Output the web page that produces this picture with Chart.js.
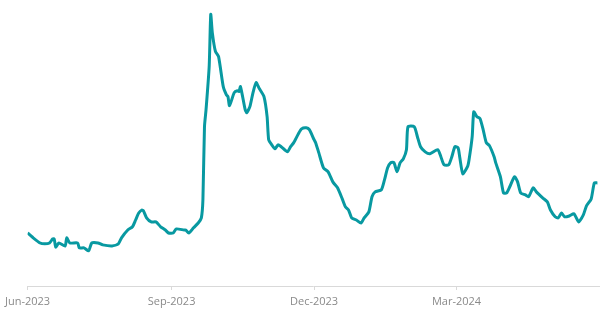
<!DOCTYPE html>
<html>
<head>
<meta charset="utf-8">
<script src="https://cdn.jsdelivr.net/npm/chart.js@4"></script>
<style>
  html, body { margin: 0; padding: 0; background: #fff; }
  .wrap { width: 600px; height: 309px; }
</style>
</head>
<body>
<div class="wrap"><canvas class="myChart"></canvas></div>
<script>
// days since 1 Jun 2023
const days = [
  0, 3, 8, 11, 14, 16, 17, 18, 20, 24, 25, 27, 32, 33, 36, 39, 41, 45, 48, 54,
  58, 60, 64, 67, 69, 71, 73, 74, 76, 79, 82, 85, 88, 90, 93, 95, 100, 101, 103, 106,
  109, 111, 112, 113, 114, 116, 117, 118, 120, 122, 125, 127, 128, 129, 132, 134, 135, 136, 139, 140,
  142, 144, 146, 148, 151, 153, 154, 156, 158, 160, 162, 166, 168, 170, 173, 175, 178, 180, 183, 184,
  186, 189, 192, 195, 198, 201, 203, 205, 207, 210, 213, 215, 218, 220, 222, 226, 228, 230, 232, 234,
  236, 238, 240, 242, 243, 247, 249, 251, 254, 257, 262, 264, 266, 269, 271, 273, 275, 276, 278, 281,
  282, 284, 285, 287, 289, 291, 293, 295, 298, 299, 302, 304, 306, 308, 311, 313, 315, 318, 320, 323,
  325, 329, 332, 334, 337, 339, 341, 343, 346, 349, 352, 355, 357, 360, 362, 364
];
const values = [
  19.6, 18.1, 15.9, 15.6, 15.9, 17.4, 17.4, 14.4, 15.9, 14.8, 17.8, 15.9, 15.9, 14.1, 14.1, 13.0, 15.9, 15.9, 15.2, 14.8,
  15.6, 17.8, 20.7, 21.9, 24.4, 27.0, 28.1, 27.8, 25.2, 23.7, 23.7, 21.9, 20.7, 19.6, 19.6, 21.1, 20.7, 20.7, 19.6, 21.5,
  23.3, 25.2, 31.9, 58.9, 65.2, 81.1, 100.4, 93.7, 86.7, 84.8, 73.7, 70.7, 70.0, 66.7, 71.5, 72.2, 71.9, 73.7, 65.2, 64.1,
  66.3, 71.5, 75.2, 73.0, 70.0, 62.6, 54.1, 52.2, 50.7, 52.2, 51.5, 49.6, 51.5, 53.0, 56.3, 58.1, 58.5, 57.8, 54.1, 53.0,
  49.3, 43.7, 42.2, 38.5, 36.3, 32.2, 29.3, 28.1, 25.2, 24.4, 23.3, 25.2, 27.4, 33.0, 34.8, 35.6, 39.3, 43.7, 45.6, 45.6,
  42.2, 45.6, 47.0, 50.4, 58.9, 58.9, 55.2, 51.5, 49.6, 48.9, 50.4, 47.8, 44.8, 44.8, 47.8, 51.5, 51.1, 47.8, 41.5, 44.1,
  46.7, 55.2, 64.4, 62.6, 61.9, 57.8, 53.0, 51.9, 47.8, 45.6, 40.4, 34.4, 34.4, 36.7, 40.4, 38.5, 34.4, 33.7, 33.0, 36.3,
  34.8, 32.6, 31.1, 28.1, 25.6, 25.2, 27.0, 25.6, 25.9, 26.7, 23.7, 26.3, 29.6, 32.2, 38.1, 38.1
];
const tickDays = [0, 92, 183, 274];
const tickLabels = ["Jun-2023", "Sep-2023", "Dec-2023", "Mar-2024"];

const ctx = document.querySelector(".myChart");

new Chart(ctx, {
  type: "line",
  data: {
    datasets: [
      {
        label: "Series",
        data: days.map((d, i) => ({ x: d, y: values[i] })),
        borderColor: "#0899a1",
        borderWidth: 3,
        pointRadius: 0,
        tension: 0.2,
        fill: false,
      },
    ],
  },
  options: {
    responsive: true,
    maintainAspectRatio: false,
    animation: false,
    layout: {
      padding: { left: 25, right: 1, top: 2, bottom: 0 },
    },
    plugins: {
      legend: { display: false },
      tooltip: { enabled: false },
    },
    scales: {
      x: {
        type: "linear",
        min: 0,
        max: 365,
        afterBuildTicks: (axis) => {
          axis.ticks = tickDays.map((v) => ({ value: v }));
        },
        afterFit: (axis) => {
          axis.height = 23;
        },
        ticks: {
          autoSkip: false,
          maxRotation: 0,
          padding: 5,
          color: "#8a8a8a",
          font: { family: "Open Sans", size: 11 },
          callback: (v) => tickLabels[tickDays.indexOf(v)],
        },
        grid: {
          drawOnChartArea: false,
          color: "#d9d9d9",
          tickLength: 4,
        },
        border: { color: "#d9d9d9" },
      },
      y: {
        display: false,
        min: 0,
        max: 105,
      },
    },
  },
});
</script>
</body>
</html>
